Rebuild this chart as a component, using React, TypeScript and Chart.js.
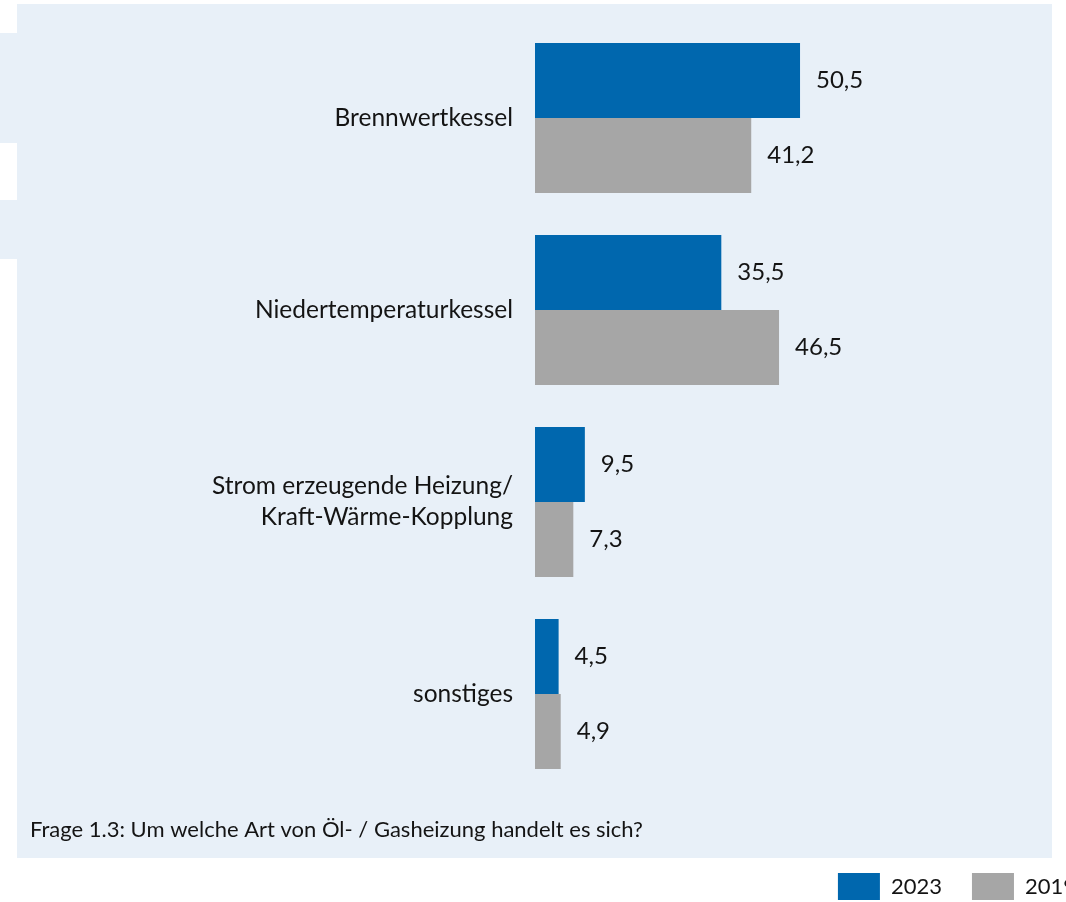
import React, { useEffect, useRef } from "react";
import { Chart, registerables } from "chart.js";

Chart.register(...registerables);

const categories: (string | string[])[] = [
  "Brennwertkessel",
  "Niedertemperaturkessel",
  ["Strom erzeugende Heizung/", "Kraft-Wärme-Kopplung"],
  "sonstiges",
];
const values2023 = [50.5, 35.5, 9.5, 4.5];
const values2019 = [41.2, 46.5, 7.3, 4.9];
const seriesLabels = ["2023", "2019"];
const caption = "Frage 1.3: Um welche Art von Öl- / Gasheizung handelt es sich?";

const FONT = "Lato, sans-serif";
const FS_SMALL = 22;
const FS_VALUE = 24;
const FS_LABEL = 24.5;
const TEXT = "#141414";
const BLUE = "#0067AE";
const GRAY = "#A6A6A6";
const PANEL = "#E8F0F8";

const backgroundPlugin = {
  id: "panelBackground",
  beforeDraw(chart: any) {
    const ctx = chart.ctx;
    ctx.save();
    ctx.fillStyle = "#ffffff";
    ctx.fillRect(0, 0, chart.width, chart.height);
    ctx.fillStyle = PANEL;
    ctx.fillRect(17, 4, 1035, 854);
    ctx.fillRect(0, 33, 17, 110);
    ctx.fillRect(0, 200, 17, 59);
    ctx.restore();
  },
  afterDraw(chart: any) {
    const ctx = chart.ctx;
    ctx.save();
    ctx.fillStyle = TEXT;
    ctx.font = `${FS_SMALL}px ${FONT}`;
    ctx.textAlign = "left";
    ctx.textBaseline = "middle";
    ctx.fillText(caption, 30, 830);
    ctx.restore();
  },
};

const valueLabelPlugin = {
  id: "valueLabels",
  afterDatasetsDraw(chart: any) {
    const ctx = chart.ctx;
    ctx.save();
    ctx.fillStyle = TEXT;
    ctx.font = `${FS_VALUE}px ${FONT}`;
    ctx.textAlign = "left";
    ctx.textBaseline = "middle";
    chart.data.datasets.forEach((ds: any, di: number) => {
      const meta = chart.getDatasetMeta(di);
      meta.data.forEach((el: any, i: number) => {
        const v = ds.data[i] as number;
        ctx.fillText(v.toFixed(1).replace(".", ","), el.x + 16, el.y);
      });
    });
    ctx.restore();
  },
};

export default function App() {
  const ref = useRef<HTMLCanvasElement | null>(null);

  useEffect(() => {
    if (!ref.current) return;
    const chart = new Chart(ref.current, {
      type: "bar",
      data: {
        labels: categories as any,
        datasets: [
          {
            label: seriesLabels[0],
            data: values2023,
            backgroundColor: BLUE,
            borderColor: BLUE,
            borderWidth: 0,
            barPercentage: 1,
            categoryPercentage: 0.78125,
          },
          {
            label: seriesLabels[1],
            data: values2019,
            backgroundColor: GRAY,
            borderColor: GRAY,
            borderWidth: 0,
            barPercentage: 1,
            categoryPercentage: 0.78125,
          },
        ],
      },
      options: {
        indexAxis: "y",
        responsive: false,
        animation: false,
        devicePixelRatio: 1,
        layout: { padding: { top: 22, left: 0, right: 0, bottom: 0 } },
        scales: {
          x: {
            min: 0,
            max: 108.8,
            display: true,
            grid: { display: false },
            border: { display: false },
            ticks: { display: false },
            afterFit(scale: any) {
              scale.height = 53;
              scale.paddingLeft = 0;
              scale.paddingRight = 0;
            },
          },
          y: {
            grid: { display: false, drawTicks: false },
            border: { display: false },
            ticks: {
              padding: 22,
              color: TEXT,
              font: { family: FONT, size: FS_LABEL, lineHeight: 31 / FS_LABEL },
              crossAlign: "near",
            },
            afterFit(scale: any) {
              scale.width = 535;
              scale.paddingTop = 0;
              scale.paddingBottom = 0;
            },
          },
        },
        plugins: {
          tooltip: { enabled: false },
          legend: {
            position: "bottom",
            align: "end",
            labels: {
              boxWidth: 42,
              boxHeight: 27,
              padding: 30,
              color: TEXT,
              font: { family: FONT, size: FS_SMALL },
            },
          },
        },
      },
      plugins: [backgroundPlugin, valueLabelPlugin],
    });
    return () => chart.destroy();
  }, []);

  return (
    <div
      style={{
        position: "fixed",
        left: 0,
        top: 0,
        width: 1066,
        height: 902,
        overflow: "hidden",
        background: "#fff",
      }}
    >
      <canvas ref={ref} width={1106} height={910} style={{ display: "block" }} />
    </div>
  );
}
